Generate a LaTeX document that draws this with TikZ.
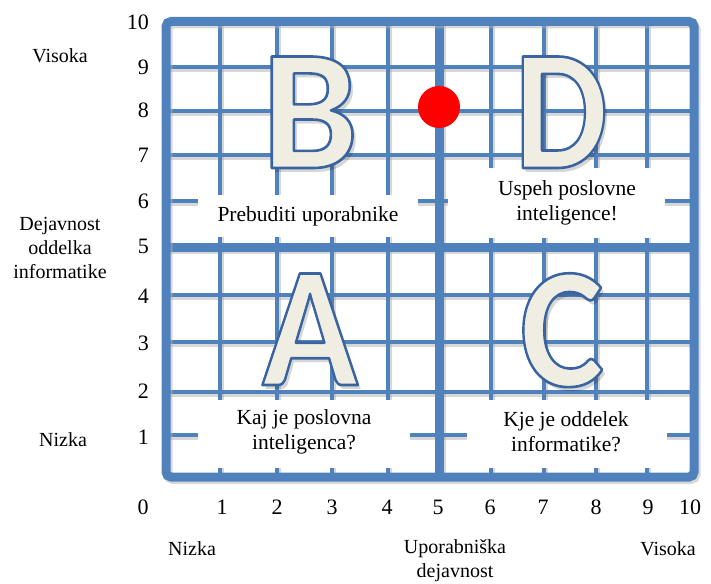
\documentclass[tikz,border=0pt]{standalone}
\usepackage{fontspec}
\setmainfont{Liberation Serif}
\newfontfamily\tnrfont{Liberation Serif}
\newfontfamily\bigletterfont{Carlito}
\definecolor{gridblue}{HTML}{4F81BD}
\definecolor{cream}{HTML}{F0EEE2}
\definecolor{outl}{HTML}{3A64A0}
\newcommand\gridlinesdraw[1]{%
  \foreach \xx in {220,277,332,388,491,544,596,647} \draw[#1, line width=4.5pt] (\xx,21.5) -- (\xx,477);
  \foreach \yy in {67,111,155,201,295,342,392,435} \draw[#1, line width=4.5pt] (166,\yy) -- (694,\yy);
  \draw[#1, line width=9pt] (439,21.5) -- (439,477);
  \draw[#1, line width=9pt] (166,247) -- (694,247);
}
\newcommand\strokedchar[1]{\special{pdf:literal 2 Tr 2.6 w 1 j 0.227 0.392 0.627 RG}#1\special{pdf:literal 0 Tr}}
\newcommand\outlinedletter[5]{% name, x, y, letter, xscale
  \begin{scope}[shift={(#2,#3)}, xscale=#5]
  \node[bigletter, text=black, opacity=0.16, xshift=4pt, yshift=-4pt] (#1s) at (0,0) {#4};
  \node[bigletter, text=cream] (#1) at (0,0) {\strokedchar{#4}};
  \end{scope}
}
\tikzset{
  whitebox/.style={fill=white, draw=none},
  axisnum/.style={font=\tnrfont\fontsize{22}{24}\selectfont, inner sep=0pt},
  axislabel/.style={font=\tnrfont\fontsize{20}{24}\selectfont, align=center, inner sep=0pt},
  boxtext/.style={font=\tnrfont\fontsize{21.5}{25}\selectfont, align=center, inner sep=0pt},
  bigletter/.style={font=\bigletterfont\bfseries\fontsize{172}{172}\selectfont, inner sep=0pt, anchor=base, transform shape},
}
\begin{document}
\begin{tikzpicture}[x=1pt,y=-1pt]
\useasboundingbox (0,0) rectangle (711,583);
% grid shadow and grid
\begin{scope}[shift={(2,2.5)}]
  \gridlinesdraw{draw=black!35, opacity=0.45}
\end{scope}
\gridlinesdraw{draw=gridblue}
% white text boxes
\fill[whitebox] (198,195) rectangle (418,237);
\fill[whitebox] (448,168) rectangle (665,238);
\fill[whitebox] (198,400) rectangle (410,468);
\fill[whitebox] (467,400) rectangle (667,468);
% frame
\draw[black!30, opacity=0.5, line width=9pt, rounded corners=5pt] (168,24) rectangle (696,479.5);
\draw[gridblue, line width=9pt, rounded corners=5pt] (166,21.5) rectangle (694,477);
% big letters
\outlinedletter{letB}{310}{168}{B}{1}
\outlinedletter{letD}{561}{168}{D}{0.86}
\outlinedletter{letA}{310}{385}{A}{0.92}
\outlinedletter{letC}{562}{386}{C}{0.92}
% red dot
\node[circle, fill=red, minimum size=42pt, inner sep=0pt] (dot) at (439,107) {};
% box texts
\node[boxtext] (tB) at (308,216) {Prebuditi uporabnike};
\node[boxtext] (tD) at (567,203) {Uspeh poslovne\\inteligence!};
\node[boxtext] (tA) at (304,432) {Kaj je poslovna\\inteligenca?};
\node[boxtext] (tC) at (566,432) {Kje je oddelek\\informatike?};
% y axis numbers
\foreach \v/\yy in {10/22,9/67,8/110,7/155,6/201,5/246,4/296,3/343,2/391,1/437}
  \node[axisnum, anchor=east] (y\v) at (149,\yy) {\v};
% x axis numbers
\foreach \v/\xx in {0/143,1/222,2/277,3/332,4/387,5/438,6/490,7/543,8/596,9/648,10/690}
  \node[axisnum] (x\v) at (\xx,507) {\v};
% axis labels
\node[axislabel] (lvis) at (60,56) {Visoka};
\node[axislabel] (ldej) at (60,248) {Dejavnost\\oddelka\\informatike};
\node[axislabel] (lniz) at (63,440) {Nizka};
\node[axislabel] (bniz) at (192,549) {Nizka};
\node[axislabel] (bupo) at (455,561) {Uporabniška\\dejavnost};
\node[axislabel] (bvis) at (668,549) {Visoka};
\end{tikzpicture}
\end{document}
